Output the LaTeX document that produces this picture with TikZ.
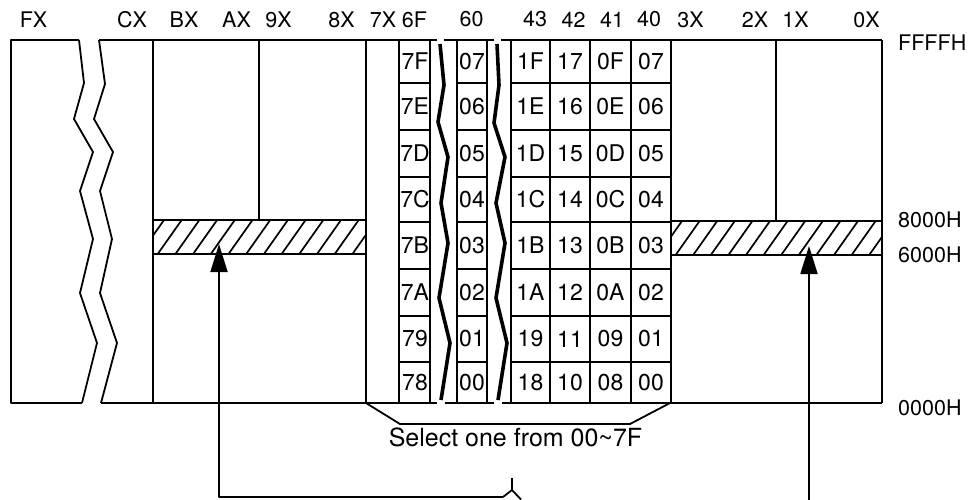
\documentclass[tikz,border=0pt]{standalone}
\usepackage{fontspec}
\setmainfont{TeX Gyre Heros}
\usetikzlibrary{arrows.meta}
\begin{document}
\begin{tikzpicture}[x=1pt,y=-1pt,line join=round,
  frame/.style={line width=1.8pt},
  cellline/.style={line width=1.4pt},
  brk/.style={line width=3.6pt},
  hatchln/.style={line width=1.7pt},
  lbl/.style={font=\fontsize{21.5}{24}\selectfont,inner sep=0pt},
  cell/.style={font=\fontsize{23}{25}\selectfont,inner sep=0pt},
  sel/.style={font=\fontsize{25}{28}\selectfont,inner sep=0pt},
  uparrow/.style={frame,-{Triangle[length=28pt,width=17pt]}}]
\useasboundingbox (0,0) rectangle (976,499);

% column labels
\node[lbl] (lFX) at (33.5,19.5) {FX};
\node[lbl] (lCX) at (132,19.5) {CX};
\node[lbl] (lBX) at (184,19.5) {BX};
\node[lbl] (lAX) at (236.5,19.5) {AX};
\node[lbl] (l9X) at (278.5,19.5) {9X};
\node[lbl] (l8X) at (341.5,19.5) {8X};
\node[lbl] (l7X) at (383,19.5) {7X};
\node[lbl] (l6F) at (414.5,19.5) {6F};
\node[lbl] (l60) at (471.5,19.5) {60};
\node[lbl] (l43) at (535,19.5) {43};
\node[lbl] (l42) at (573.5,19.5) {42};
\node[lbl] (l41) at (612,19.5) {41};
\node[lbl] (l40) at (649,19.5) {40};
\node[lbl] (l3X) at (690.5,19.5) {3X};
\node[lbl] (l2X) at (755,19.5) {2X};
\node[lbl] (l1X) at (795.5,19.5) {1X};
\node[lbl] (l0X) at (866.5,19.5) {0X};
% address labels
\node[lbl,anchor=west] (aF) at (898,43) {FFFFH};
\node[lbl,anchor=west] (a8) at (898,220) {8000H};
\node[lbl,anchor=west] (a6) at (898,254.5) {6000H};
\node[lbl,anchor=west] (a0) at (898,408) {0000H};

% hatched bands
\begin{scope}
  \clip (153,220) rectangle (366,254);
  \foreach \i in {0,...,14} \draw[hatchln] ({140+\i*17.7},254) -- ++(24,-34);
\end{scope}
\begin{scope}
  \clip (671,221) rectangle (882,255);
  \foreach \i in {0,...,14} \draw[hatchln] ({658+\i*17.6},255) -- ++(24,-34);
\end{scope}
\draw[frame] (153,220) -- (366,220) (153,254) -- (366,254);
\draw[frame] (671,221) -- (882,221) (671,255) -- (882,255);

% left broken block
\draw[frame] (79,40) -- (11,40) -- (11,403) -- (82,403);
\draw[frame] (79,40) -- (84,83) -- (74,119) -- (93,152) -- (80,191) -- (93,239) -- (80,293) -- (97,343) -- (82,403);
\draw[frame] (99,40) -- (105,84) -- (94,119) -- (113,152) -- (100,191) -- (112,239) -- (100,293) -- (117,343) -- (101,403);

% top and bottom lines
\draw[frame] (99,40) -- (437,40) (444,40) -- (494,40) (501,40) -- (882,40);
\draw[frame] (101,403) -- (437,403) (445,403) -- (494,403) (502,403) -- (882,403);

% vertical lines
\draw[frame] (153,40) -- (153,403);
\draw[frame] (259,40) -- (259,220);
\draw[frame] (366,40) -- (366,403);
\draw[frame] (671,40) -- (671,403);
\draw[frame] (776,40) -- (776,221);
\draw[frame] (882,40) -- (882,403);
\foreach \x in {399,430,457,487,511,550,590,631}
  \draw[cellline] (\x,40) -- (\x,403);
\foreach \y in {83,130,177,222,269,316,362} {
  \draw[cellline] (399,\y) -- (430,\y);
  \draw[cellline] (457,\y) -- (487,\y);
  \draw[cellline] (511,\y) -- (671,\y);
}

% breaks in the cell grid
\draw[brk] (440,44) -- (444,85) -- (438,122) -- (448,157) -- (441,203) -- (448,243) -- (439,298) -- (450,343) -- (441,400);
\draw[brk] (497,44) -- (499,85) -- (494,123) -- (505,157) -- (496,203) -- (505,243) -- (496,298) -- (507,343) -- (498,400);

% cell texts
\foreach \y/\a/\b/\c/\d/\e/\f [count=\i] in {
  61.5/7F/07/1F/17/0F/07,
  106.5/7E/06/1E/16/0E/06,
  153.5/7D/05/1D/15/0D/05,
  199.5/7C/04/1C/14/0C/04,
  245.5/7B/03/1B/13/0B/03,
  292.5/7A/02/1A/12/0A/02,
  339/79/01/19/11/09/01,
  382.5/78/00/18/10/08/00} {
  \node[cell] (ca\i) at (415,\y) {\a};
  \node[cell] (cb\i) at (472,\y) {\b};
  \node[cell] (cc\i) at (530.5,\y) {\c};
  \node[cell] (cd\i) at (570,\y) {\d};
  \node[cell] (ce\i) at (610.5,\y) {\e};
  \node[cell] (cf\i) at (651,\y) {\f};
}

% bracket and its text
\coordinate (bL) at (366,403);
\coordinate (bL2) at (400,424);
\coordinate (bR2) at (630,424);
\coordinate (bR) at (670,403);
\draw[frame] (bL) -- (bL2) -- (bR2) -- (bR);
\node[sel] (seltext) at (515.5,437.5) {Select one from 00\textasciitilde 7F};

% arrows and connectors
\coordinate (tipL) at (219,244);
\coordinate (cornerL) at (219,497);
\coordinate (jL) at (503,497);
\coordinate (jfork) at (512,490);
\coordinate (jtop) at (512,478);
\coordinate (jR) at (521,499.5);
\coordinate (tipR) at (809,246);
\coordinate (footR) at (809,499.5);
\draw[uparrow] (jL) -- (cornerL) -- (tipL);
\draw[frame] (jtop) -- (jfork);
\draw[frame] (jL) -- (jfork) -- (jR);
\draw[uparrow] (footR) -- (tipR);
\end{tikzpicture}
\end{document}
